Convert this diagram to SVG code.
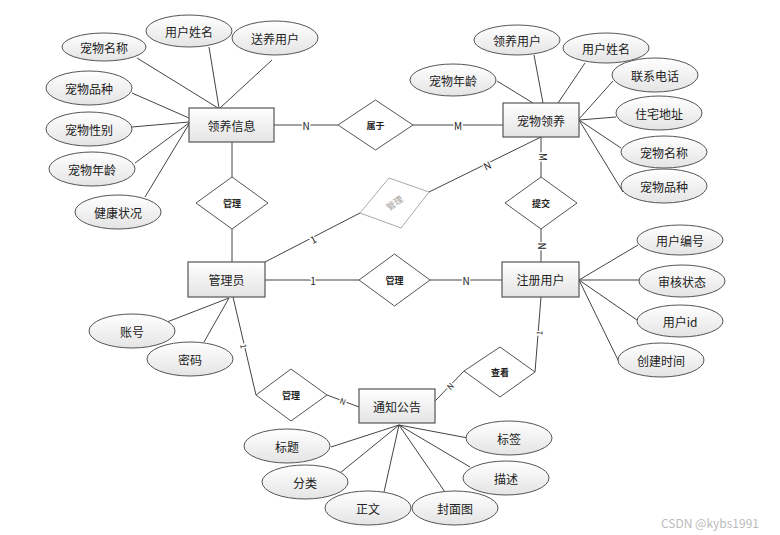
<svg xmlns="http://www.w3.org/2000/svg" width="780" height="535" viewBox="0 0 780 535">
<defs>
<linearGradient id="g" x1="0" y1="0" x2="0" y2="1"><stop offset="0" stop-color="#ffffff"/><stop offset="1" stop-color="#e4e4e4"/></linearGradient>
</defs>
<style>
.e{fill:url(#g);stroke:#555;stroke-width:1}
.r{fill:url(#g);stroke:#555;stroke-width:1.2}
.d{fill:#fff;stroke:#555;stroke-width:1}
.l{stroke:#444;stroke-width:1;fill:none}
text{font-family:"Noto Sans CJK SC","Liberation Sans",sans-serif;fill:#222;text-anchor:middle;dominant-baseline:central}
.t{font-size:12px}
.s{font-size:9px;font-weight:bold}
.c{font-size:10px;stroke:#fff;stroke-width:3;paint-order:stroke}
</style>
<rect width="780" height="535" fill="#fff"/>
<g id="connectors">
<!-- 领养信息 attrs -->
<line class="l" x1="137" y1="58" x2="218" y2="108"/>
<line class="l" x1="209" y1="47" x2="219" y2="108"/>
<line class="l" x1="272" y1="60" x2="220" y2="108"/>
<line class="l" x1="132" y1="93" x2="189" y2="118"/>
<line class="l" x1="132" y1="127" x2="189" y2="122"/>
<line class="l" x1="135" y1="163" x2="189" y2="123"/>
<line class="l" x1="145" y1="197" x2="189" y2="124"/>
<!-- 宠物领养 attrs -->
<line class="l" x1="497" y1="81" x2="533" y2="103"/>
<line class="l" x1="534" y1="55" x2="543" y2="103"/>
<line class="l" x1="585" y1="63" x2="558" y2="103"/>
<line class="l" x1="613" y1="81" x2="579" y2="119"/>
<line class="l" x1="616" y1="117" x2="579" y2="120"/>
<line class="l" x1="621" y1="148" x2="579" y2="120"/>
<line class="l" x1="623" y1="192" x2="579" y2="120"/>
<!-- 注册用户 attrs -->
<line class="l" x1="579" y1="280" x2="638" y2="245"/>
<line class="l" x1="579" y1="280" x2="640" y2="280"/>
<line class="l" x1="579" y1="280" x2="637" y2="320"/>
<line class="l" x1="579" y1="280" x2="619" y2="362"/>
<!-- 管理员 attrs -->
<line class="l" x1="229" y1="298" x2="167" y2="322"/>
<line class="l" x1="229" y1="298" x2="204" y2="342"/>
<!-- 通知公告 attrs -->
<line class="l" x1="399" y1="425" x2="468" y2="438"/>
<line class="l" x1="399" y1="425" x2="470" y2="467"/>
<line class="l" x1="399" y1="425" x2="445" y2="492"/>
<line class="l" x1="399" y1="425" x2="384" y2="492"/>
<line class="l" x1="399" y1="425" x2="340" y2="473"/>
<line class="l" x1="399" y1="425" x2="331" y2="447"/>
<!-- relationships -->
<line class="l" x1="274" y1="125" x2="338" y2="125"/>
<line class="l" x1="413" y1="125" x2="503" y2="125"/>
<line class="l" x1="232" y1="142" x2="232" y2="177"/>
<line class="l" x1="232" y1="229" x2="232" y2="262"/>
<line class="l" x1="265" y1="262" x2="360" y2="213"/>
<line class="l" x1="429" y1="192" x2="541" y2="137"/>
<line class="l" x1="541" y1="137" x2="541" y2="177"/>
<line class="l" x1="541" y1="229" x2="541" y2="262"/>
<line class="l" x1="265" y1="280" x2="359" y2="280"/>
<line class="l" x1="430" y1="280" x2="502" y2="280"/>
<line class="l" x1="233" y1="297" x2="256" y2="395"/>
<line class="l" x1="327" y1="395" x2="359" y2="407"/>
<line class="l" x1="541" y1="297" x2="535" y2="372"/>
<line class="l" x1="464" y1="371" x2="435" y2="401"/>
<!-- cardinalities -->
<text class="c" x="306" y="125">N</text>
<text class="c" x="458" y="125">M</text>
<text class="c" transform="translate(543 157) rotate(90)">M</text>
<text class="c" transform="translate(487 165) rotate(-26)">N</text>
<text class="c" transform="translate(542 246) rotate(90)">N</text>
<text class="c" transform="translate(313 239) rotate(-27)">1</text>
<text class="c" x="313" y="280">1</text>
<text class="c" x="466" y="280">N</text>
<text class="c" transform="translate(244 346) rotate(77)" style="font-size:8px">1</text>
<text class="c" transform="translate(343 401) rotate(21)" style="font-size:8px">N</text>
<text class="c" transform="translate(450 386) rotate(-46)" style="font-size:8px">N</text>
<text class="c" transform="translate(539 333) rotate(-85)" style="font-size:8px">1</text>
</g>
<g id="e-lyxx"><rect class="r" x="189" y="108" width="85" height="34"/><text class="t" x="231.5" y="125">领养信息</text></g>
<g id="e-cwly"><rect class="r" x="503" y="103" width="76" height="34"/><text class="t" x="541" y="120">宠物领养</text></g>
<g id="e-gly"><rect class="r" x="188" y="262" width="77" height="35"/><text class="t" x="226.5" y="279.5">管理员</text></g>
<g id="e-zcyh"><rect class="r" x="502" y="262" width="77" height="35"/><text class="t" x="540.5" y="279.5">注册用户</text></g>
<g id="e-tzgg"><rect class="r" x="359" y="389" width="76" height="34"/><text class="t" x="397" y="406">通知公告</text></g>
<g id="r-sy"><polygon class="d" points="338,125 375.5,100 413,125 375.5,150"/><text class="s" x="375.5" y="125">属于</text></g>
<g id="r-gl1"><polygon class="d" points="196,203 232,177 268,203 232,229"/><text class="s" x="232" y="203">管理</text></g>
<g id="r-gl2"><polygon points="360,213 389,178 429,192 401,228" fill="#fff" stroke="#aaa" stroke-width="1"/><text class="s" transform="translate(394.5 203) rotate(-35)" style="fill:#999;font-weight:normal">管理</text></g>
<g id="r-tj"><polygon class="d" points="505,203 541,177 577,203 541,229"/><text class="s" x="541" y="203">提交</text></g>
<g id="r-gl3"><polygon class="d" points="359,280 394.5,254 430,280 394.5,306"/><text class="s" x="394.5" y="280">管理</text></g>
<g id="r-gl4"><polygon class="d" points="256,395 291,369 327,395 291,421"/><text class="s" x="291" y="395">管理</text></g>
<g id="r-ck"><polygon class="d" points="464,371 500,347 535,372 500,397"/><text class="s" x="500" y="372">查看</text></g>
<g id="a1"><ellipse class="e" cx="104" cy="47" rx="42" ry="14"/><text class="t" x="104" y="47">宠物名称</text></g>
<g id="a2"><ellipse class="e" cx="189" cy="31" rx="43" ry="16"/><text class="t" x="189" y="31">用户姓名</text></g>
<g id="a3"><ellipse class="e" cx="275" cy="38" rx="43" ry="17"/><text class="t" x="275" y="38">送养用户</text></g>
<g id="a4"><ellipse class="e" cx="89" cy="88" rx="43" ry="17"/><text class="t" x="89" y="88">宠物品种</text></g>
<g id="a5"><ellipse class="e" cx="89" cy="129" rx="43" ry="17"/><text class="t" x="89" y="129">宠物性别</text></g>
<g id="a6"><ellipse class="e" cx="92" cy="169" rx="43" ry="17"/><text class="t" x="92" y="169">宠物年龄</text></g>
<g id="a7"><ellipse class="e" cx="118" cy="212" rx="43" ry="17"/><text class="t" x="118" y="212">健康状况</text></g>
<g id="b1"><ellipse class="e" cx="453" cy="80" rx="43" ry="16"/><text class="t" x="453" y="80">宠物年龄</text></g>
<g id="b2"><ellipse class="e" cx="517" cy="40" rx="43" ry="15"/><text class="t" x="517" y="40">领养用户</text></g>
<g id="b3"><ellipse class="e" cx="606" cy="48" rx="43" ry="15"/><text class="t" x="606" y="48">用户姓名</text></g>
<g id="b4"><ellipse class="e" cx="655" cy="75" rx="43" ry="17"/><text class="t" x="655" y="75">联系电话</text></g>
<g id="b5"><ellipse class="e" cx="659" cy="113" rx="43" ry="17"/><text class="t" x="659" y="113">住宅地址</text></g>
<g id="b6"><ellipse class="e" cx="664" cy="152" rx="43" ry="16"/><text class="t" x="664" y="152">宠物名称</text></g>
<g id="b7"><ellipse class="e" cx="664" cy="186" rx="43" ry="17"/><text class="t" x="664" y="186">宠物品种</text></g>
<g id="c1"><ellipse class="e" cx="680" cy="240" rx="43" ry="15"/><text class="t" x="680" y="240">用户编号</text></g>
<g id="c2"><ellipse class="e" cx="682" cy="281" rx="43" ry="16"/><text class="t" x="682" y="281">审核状态</text></g>
<g id="c3"><ellipse class="e" cx="680" cy="321" rx="43" ry="16"/><text class="t" x="680" y="321">用户id</text></g>
<g id="c4"><ellipse class="e" cx="661" cy="360" rx="43" ry="17"/><text class="t" x="661" y="360">创建时间</text></g>
<g id="d1"><ellipse class="e" cx="132" cy="331" rx="43" ry="17"/><text class="t" x="132" y="331">账号</text></g>
<g id="d2"><ellipse class="e" cx="190" cy="359" rx="43" ry="17"/><text class="t" x="190" y="359">密码</text></g>
<g id="f1"><ellipse class="e" cx="509" cy="438" rx="43" ry="17"/><text class="t" x="509" y="438">标签</text></g>
<g id="f2"><ellipse class="e" cx="506" cy="478" rx="43" ry="17"/><text class="t" x="506" y="478">描述</text></g>
<g id="f3"><ellipse class="e" cx="455" cy="508" rx="43" ry="17"/><text class="t" x="455" y="508">封面图</text></g>
<g id="f4"><ellipse class="e" cx="368" cy="508" rx="43" ry="17"/><text class="t" x="368" y="508">正文</text></g>
<g id="f5"><ellipse class="e" cx="305" cy="482" rx="43" ry="17"/><text class="t" x="305" y="482">分类</text></g>
<g id="f6"><ellipse class="e" cx="287" cy="446" rx="43" ry="17"/><text class="t" x="287" y="446">标题</text></g>
<text x="710" y="522" style="font-size:12px;fill:#bbb">CSDN @kybs1991</text>
</svg>
